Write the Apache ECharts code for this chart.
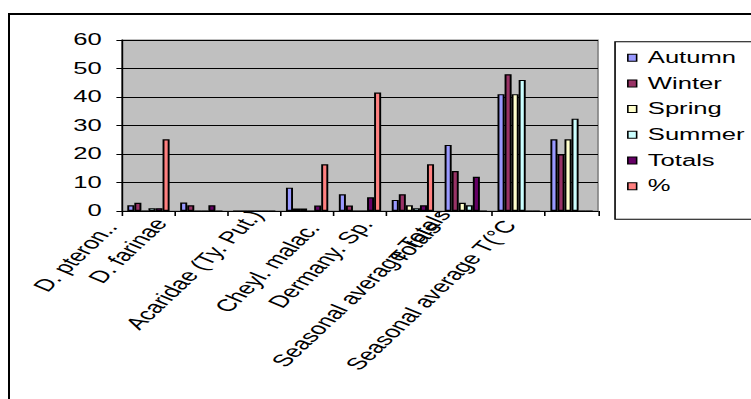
<!DOCTYPE html>
<html>
<head>
<meta charset="utf-8">
<script src="https://cdn.jsdelivr.net/npm/echarts@6/dist/echarts.min.js"></script>
<style>
  html, body { margin: 0; padding: 0; width: 751px; height: 399px; overflow: hidden; background: #fff; }
  #frame { position: absolute; left: 8px; top: 13px; width: 800px; height: 400px;
           border-left: 2px solid #000; border-top: 2px solid #000; }
  #c { position: absolute; left: 0; top: 0; width: 480px; height: 399px;
       transform: scaleX(1.6); transform-origin: 0 0; }
</style>
</head>
<body>
<div id="frame"></div>
<div id="c"></div>
<script>
// ---- data ----
const categories = ["D. pteron..", "D. farinae", "Acaridae (Ty. Put.)", "Cheyl. malac.",
                    "Dermany. Sp.", "Totals", "Seasonal average Totals", "Seasonal average T(\u00B0C", ""];
const seriesNames = ["Autumn", "Winter", "Spring", "Summer", "Totals", "%"];
const autumn = [2, 3, 0, 8.2, 5.9, 3.9, 23.2, 41, 25.2];
const winter = [2.9, 2, 0, 0.9, 1.9, 5.9, 14, 48, 19.9];
const spring = [0, 0, 0, 0.9, 0, 2, 2.9, 41, 25.2];
const summer = [1, 0, 0, 0, 0, 1, 2, 46, 32.4];
const totals = [1, 2, 0, 1.9, 4.8, 2, 12, 0, 0];
const pct    = [25.2, 0, 0, 16.4, 41.6, 16.4, 0, 0, 0];
const yMin = 0, yMax = 60, yStep = 10;

// ---- styling ----
const colors = ["#9999FF", "#993366", "#FFFFCC", "#CCFFFF", "#660066", "#FF8080"];
// per-label text padding (style only) to mimic the original's irregular label placement
const labelPadding = [
  [0, 15.7, 36, 0], [0, 13.5, 43.6, 0], [0, -8.2, 8.0, 0], [10.7, 1.2, 0, 0],
  [6.2, -2.1, 0, 0], [26.1, -5.2, 0, 0], [0, -0.6, 34, 0], [0, 4.0, 8.3, 0], [0, 0, 0, 0]
];
const values = [autumn, winter, spring, summer, totals, pct];

const chart = echarts.init(document.getElementById('c'), null, { renderer: 'svg' });
const font = "'Liberation Sans', Arial, sans-serif";

const rich = {};
labelPadding.forEach((p, i) => {
  rich['p' + i] = { padding: p, fontSize: 17, fontFamily: font, color: '#000' };
});

chart.setOption({
  animation: false,
  textStyle: { fontFamily: font },
  grid: {
    left: 76.25, top: 40, width: 297.5, height: 171,
    show: true, backgroundColor: '#C0C0C0', borderColor: '#808080', borderWidth: 1,
    containLabel: false, outerBoundsMode: 'none'
  },
  legend: {
    orient: 'vertical',
    left: 384.4, top: 41.7,
    padding: [8, 30, 25, 7.5],
    itemGap: 9.7,
    itemWidth: 5.5, itemHeight: 7,
    icon: 'rect',
    borderColor: '#000', borderWidth: 1, backgroundColor: '#fff',
    itemStyle: { borderColor: '#000', borderWidth: 1 },
    textStyle: { fontSize: 16, lineHeight: 16, color: '#000', fontFamily: font, padding: [0, 0, 0, 2] },
    data: seriesNames
  },
  xAxis: {
    type: 'category',
    data: categories,
    axisLine: { show: true, lineStyle: { color: '#000', width: 1 } },
    axisTick: { show: true, length: 5, lineStyle: { color: '#000' } },
    axisLabel: {
      rotate: 56, interval: 0, fontSize: 17, color: '#000', margin: 10, fontFamily: font,
      formatter: (v, i) => '{p' + i + '|' + v + '}',
      rich: rich
    },
    splitLine: { show: false }
  },
  yAxis: {
    type: 'value',
    min: yMin, max: yMax, interval: yStep,
    axisLine: { show: true, lineStyle: { color: '#000', width: 1 } },
    axisTick: { show: true, length: 3.5, lineStyle: { color: '#000' } },
    axisLabel: { fontSize: 16, color: '#000', margin: 12.7, fontFamily: font },
    splitLine: { show: true, lineStyle: { color: '#000', width: 1 } }
  },
  series: seriesNames.map((name, i) => ({
    name: name,
    type: 'bar',
    data: values[i],
    barGap: '0%',
    barCategoryGap: '20%',
    itemStyle: { color: colors[i], borderColor: '#000', borderWidth: 1.2 },
    emphasis: { disabled: true }
  }))
});
</script>
</body>
</html>
